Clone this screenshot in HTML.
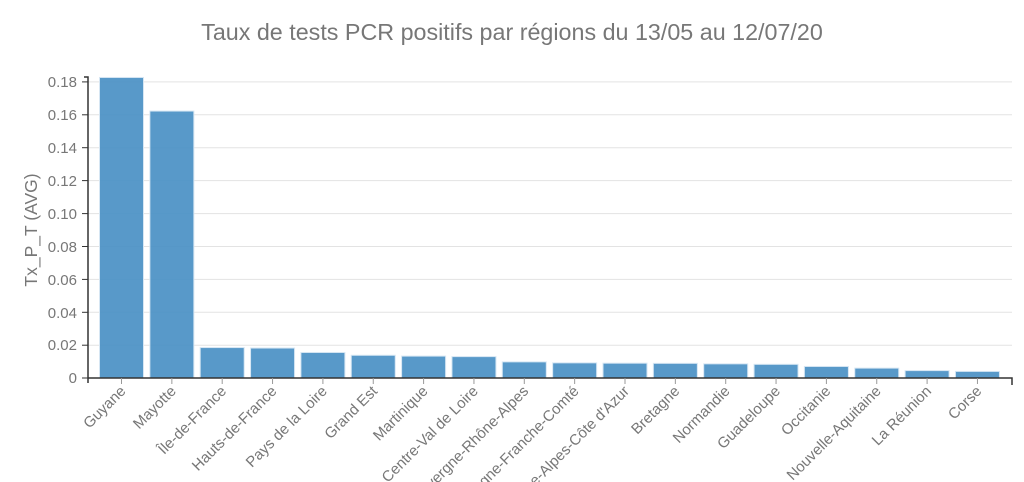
<!DOCTYPE html>
<html><head><meta charset="utf-8"><style>html,body{margin:0;background:#fff;overflow:hidden;width:1024px;height:482px}svg{display:block}text{font-family:"Liberation Sans",sans-serif;fill:#777}</style></head><body>
<svg width="1024" height="482" xmlns="http://www.w3.org/2000/svg">
<text x="512" y="40" font-size="23.3" text-anchor="middle" fill="#666">Taux de tests PCR positifs par régions du 13/05 au 12/07/20</text>
<text transform="translate(37,230) rotate(-90)" font-size="17.5" text-anchor="middle" fill="#666">Tx_P_T (AVG)</text>
<g stroke="#e3e3e3" stroke-width="1">
<line x1="88" x2="1012" y1="81.9" y2="81.9"/><line x1="88" x2="1012" y1="114.8" y2="114.8"/><line x1="88" x2="1012" y1="147.7" y2="147.7"/><line x1="88" x2="1012" y1="180.6" y2="180.6"/><line x1="88" x2="1012" y1="213.6" y2="213.6"/><line x1="88" x2="1012" y1="246.5" y2="246.5"/><line x1="88" x2="1012" y1="279.4" y2="279.4"/><line x1="88" x2="1012" y1="312.3" y2="312.3"/><line x1="88" x2="1012" y1="345.2" y2="345.2"/>
</g>
<g font-size="15" text-anchor="end">
<text x="77" y="87">0.18</text><text x="77" y="120">0.16</text><text x="77" y="153">0.14</text><text x="77" y="186">0.12</text><text x="77" y="219">0.10</text><text x="77" y="252">0.08</text><text x="77" y="285">0.06</text><text x="77" y="318">0.04</text><text x="77" y="350">0.02</text><text x="77" y="383">0</text>
</g>
<g stroke="#333" stroke-width="1"><line x1="82" x2="88" y1="81.9" y2="81.9"/><line x1="82" x2="88" y1="114.8" y2="114.8"/><line x1="82" x2="88" y1="147.7" y2="147.7"/><line x1="82" x2="88" y1="180.6" y2="180.6"/><line x1="82" x2="88" y1="213.6" y2="213.6"/><line x1="82" x2="88" y1="246.5" y2="246.5"/><line x1="82" x2="88" y1="279.4" y2="279.4"/><line x1="82" x2="88" y1="312.3" y2="312.3"/><line x1="82" x2="88" y1="345.2" y2="345.2"/><line x1="82" x2="88" y1="378" y2="378"/></g>
<g id="bars" fill="#4a90c4" fill-opacity="0.92" stroke="#d6e6f3" stroke-width="1"></g>
<path d="M84 77H88V383" stroke="#333" fill="none" stroke-width="1.5"/>
<path d="M88 378H1012V385" stroke="#333" fill="none" stroke-width="1.5"/>
<g id="xt"></g>
<script>
var names=["Guyane","Mayotte","Île-de-France","Hauts-de-France","Pays de la Loire","Grand Est","Martinique","Centre-Val de Loire","Auvergne-Rhône-Alpes","Bourgogne-Franche-Comté","Provence-Alpes-Côte d'Azur","Bretagne","Normandie","Guadeloupe","Occitanie","Nouvelle-Aquitaine","La Réunion","Corse"];
var vals=[0.1826,0.1622,0.0185,0.0182,0.0155,0.0138,0.0133,0.0130,0.0098,0.0092,0.0090,0.0089,0.0086,0.0083,0.0070,0.0060,0.0045,0.0040];
var ns="http://www.w3.org/2000/svg",b=document.getElementById("bars"),x=document.getElementById("xt");
for(var i=0;i<18;i++){var c=121.5+i*50.35,h=vals[i]*1645.8;
var r=document.createElementNS(ns,"rect");r.setAttribute("x",c-22);r.setAttribute("width",44);r.setAttribute("y",378-h);r.setAttribute("height",h);b.appendChild(r);
var l=document.createElementNS(ns,"line");l.setAttribute("x1",c);l.setAttribute("x2",c);l.setAttribute("y1",378);l.setAttribute("y2",384);l.setAttribute("stroke","#999");x.appendChild(l);
var t=document.createElementNS(ns,"text");t.setAttribute("font-size","15");t.setAttribute("text-anchor","end");t.setAttribute("transform","translate("+(c+5)+",392) rotate(-45)");t.textContent=names[i];x.appendChild(t);}
</script>
</svg></body></html>
